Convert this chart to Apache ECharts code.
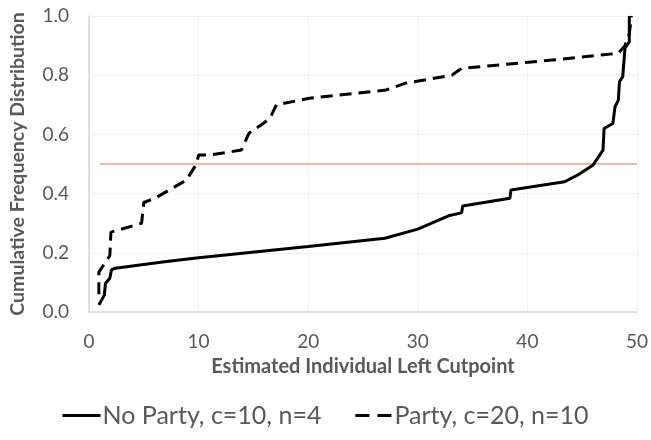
<!DOCTYPE html>
<html>
<head>
<meta charset="utf-8">
<script src="https://cdn.jsdelivr.net/npm/echarts@6/dist/echarts.min.js"></script>
<style>html,body{margin:0;padding:0;background:#fff;}#c{width:651px;height:440px;}</style>
</head>
<body>
<div id="c"></div>
<script>
var noPartyX = [0.9, 1.4, 1.5, 1.9, 2.05, 2.4, 6.9, 10, 20, 27, 30, 32.8, 34, 34.1, 38.4, 38.5, 43.4, 44.6, 46, 46.9, 47.0, 47.8, 48.0, 48.3, 48.4, 48.7, 48.9, 49.3, 49.3];
var noPartyY = [0.024, 0.057, 0.097, 0.114, 0.142, 0.148, 0.17, 0.183, 0.221, 0.249, 0.28, 0.325, 0.335, 0.358, 0.384, 0.412, 0.44, 0.463, 0.497, 0.547, 0.62, 0.637, 0.694, 0.716, 0.778, 0.795, 0.89, 0.913, 1.0];
var partyX = [0.9, 0.9, 1.9, 2.0, 3.9, 4.8, 5.0, 6.0, 8.9, 9.8, 10.0, 11.0, 13.9, 14.6, 15.7, 16.5, 17.1, 20.1, 27.1, 28.9, 33.1, 34.0, 42.2, 48.3, 48.9, 49.3, 49.5];
var partyY = [0.06, 0.135, 0.19, 0.27, 0.29, 0.30, 0.37, 0.384, 0.446, 0.50, 0.53, 0.53, 0.547, 0.604, 0.632, 0.654, 0.70, 0.722, 0.75, 0.773, 0.80, 0.823, 0.851, 0.874, 0.90, 0.94, 1.0];
var refX = [1, 50];
var refY = [0.5, 0.5];
var seriesNames = ['No Party, c=10, n=4', 'Party, c=20, n=10'];
var xTitle = 'Estimated Individual Left Cutpoint';
var yTitle = 'Cumulative Frequency Distribution';

function pairs(xs, ys) { return xs.map(function (x, i) { return [x, ys[i]]; }); }

var FONT = 'Lato';
var chart = echarts.init(document.getElementById('c'), null, {renderer: 'canvas'});
chart.setOption({
  backgroundColor: '#ffffff',
  animation: false,
  grid: {left: 89, right: 12, top: 16, bottom: 128, containLabel: false},
  xAxis: {
    type: 'value', min: 0, max: 50, interval: 10,
    name: xTitle, nameLocation: 'middle', nameGap: 45,
    nameTextStyle: {fontFamily: FONT, fontSize: 20, fontWeight: 'bold', color: '#595959'},
    axisLine: {show: true, lineStyle: {color: '#D9D9D9', width: 1.5}},
    axisTick: {show: false},
    axisLabel: {fontFamily: FONT, fontSize: 19, color: '#595959', margin: 20},
    splitLine: {show: true, lineStyle: {color: '#F0F0F0', width: 1}}
  },
  yAxis: {
    type: 'value', min: 0, max: 1, interval: 0.2,
    name: yTitle, nameLocation: 'middle', nameGap: 61,
    nameTextStyle: {fontFamily: FONT, fontSize: 19.5, fontWeight: 'bold', color: '#595959'},
    axisLine: {show: true, lineStyle: {color: '#D9D9D9', width: 1.5}},
    axisTick: {show: false},
    axisLabel: {fontFamily: FONT, fontSize: 19, color: '#595959', margin: 20,
      formatter: function (v) { return v.toFixed(1); }},
    splitLine: {show: true, lineStyle: {color: '#F0F0F0', width: 1}}
  },
  legend: {
    bottom: 7, left: 'center', itemGap: 34, itemWidth: 38, itemHeight: 3,
    textStyle: {fontFamily: FONT, fontSize: 25, color: '#595959', padding: [0, 0, 0, -3]},
    data: [
      {name: seriesNames[0], icon: 'path://M0,0 H38 V3 H0 Z'},
      {name: seriesNames[1], icon: 'path://M0,0 H14 V3 H0 Z M22,0 H36 V3 H22 Z'}
    ],
    itemStyle: {color: '#000'}
  },
  series: [
    {
      name: 'ref', type: 'line', data: pairs(refX, refY), symbol: 'none', silent: true,
      lineStyle: {color: '#E9A482', width: 1.5}, z: 1
    },
    {
      name: seriesNames[0], type: 'line', data: pairs(noPartyX, noPartyY), symbol: 'none',
      lineStyle: {color: '#000000', width: 3}, itemStyle: {color: '#000'}, z: 3
    },
    {
      name: seriesNames[1], type: 'line', data: pairs(partyX, partyY), symbol: 'none',
      lineStyle: {color: '#000000', width: 3, type: [12, 7]}, itemStyle: {color: '#000'}, z: 2
    }
  ]
});
</script>
</body>
</html>
